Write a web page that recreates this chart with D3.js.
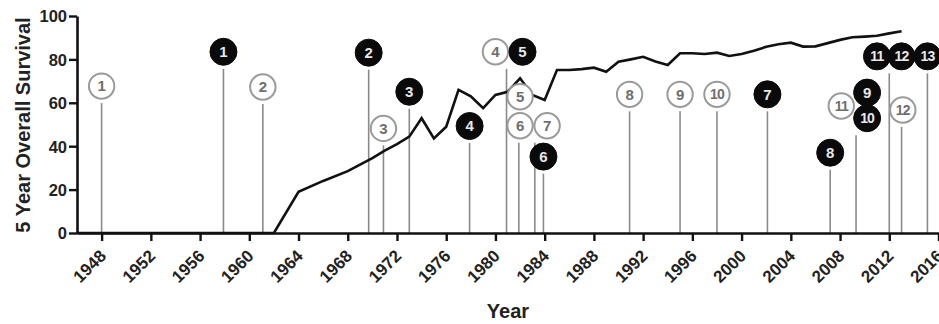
<!DOCTYPE html>
<html>
<head>
<meta charset="utf-8">
<script src="https://cdn.jsdelivr.net/npm/d3@7"></script>
<style>
  html, body { margin: 0; padding: 0; background: #fff; }
  svg { display: block; font-family: "Liberation Sans", Arial, sans-serif; }
</style>
</head>
<body>
<svg id="chart" width="939" height="324"></svg>
<script>
// ---- data ----
const survivalYears = [1946, 1962, 1964, 1966, 1968, 1970, 1971, 1972, 1973, 1974, 1975, 1976, 1977, 1978, 1979, 1980, 1981, 1982, 1983, 1984, 1985, 1986, 1987, 1988, 1989, 1990, 1991, 1992, 1993, 1994, 1995, 1996, 1997, 1998, 1999, 2000, 2001, 2002, 2003, 2004, 2005, 2006, 2007, 2008, 2009, 2010, 2011, 2012, 2013];
const survivalValues = [0, 0, 19, 24, 28.5, 34.5, 38, 41, 44.4, 52.9, 43.6, 49, 66, 63, 57.5, 63.6, 65.1, 71.3, 63.6, 61.3, 75.1, 75.1, 75.5, 76.2, 74.3, 78.9, 80, 81.2, 79, 77.4, 82.8, 82.8, 82.5, 83.1, 81.6, 82.5, 84, 85.8, 87, 87.7, 85.9, 86, 87.5, 89, 90.2, 90.5, 90.9, 92, 93];

const eventNumbers = ["1", "1", "2", "2", "3", "3", "4", "4", "5", "5", "6", "7", "6", "8", "9", "10", "7", "8", "11", "9", "10", "11", "12", "12", "13"];
const eventFilled  = [false, true, false, true, false, true, true, false, true, false, false, false, true, false, false, false, true, true, false, true, true, true, true, false, true];
const eventStemYears   = [1948, 1957.9, 1961.1, 1969.7, 1970.9, 1973.0, 1977.9, 1980.9, 1980.9, 1981.9, 1981.9, 1983.2, 1983.9, 1990.9, 1995.0, 1998.0, 2002.1, 2007.2, 2009.3, 2009.3, 2009.3, 2012.0, 2012.0, 2013.0, 2015.1];
const eventBadgeYears  = [1948, 1957.9, 1961.1, 1969.7, 1970.9, 1973.0, 1977.9, 1980.0, 1982.2, 1982.0, 1982.0, 1984.2, 1983.9, 1990.9, 1995.0, 1998.0, 2002.1, 2007.2, 2008.1, 2010.2, 2010.2, 2011.0, 2013.0, 2013.1, 2015.1];
const eventBadgeLevels = [67.7, 83.5, 67.3, 83.1, 48.2, 65.1, 49.3, 83.5, 83.5, 62.8, 49.4, 49.4, 35.2, 63.9, 63.9, 63.9, 63.9, 37.0, 58.5, 64.7, 52.9, 81.4, 81.4, 56.7, 81.4];

const xTickValues = [1948, 1952, 1956, 1960, 1964, 1968, 1972, 1976, 1980, 1984, 1988, 1992, 1996, 2000, 2004, 2008, 2012, 2016];
const yTickValues = [0, 20, 40, 60, 80, 100];
const xTitle = "Year";
const yTitle = "5 Year Overall Survival";

// ---- layout ----
const svg = d3.select("#chart");
const x = d3.scaleLinear().domain([1946, 2016]).range([77, 938.5]);
const y = d3.scaleLinear().domain([0, 100]).range([233, 16]);
const R = 13.5;

const events = eventNumbers.map((n, i) => ({
  num: n, filled: eventFilled[i], stem: eventStemYears[i],
  bx: eventBadgeYears[i], level: eventBadgeLevels[i]
}));

// stems
const stemGroups = d3.groups(events, d => d.stem);
svg.append("g").selectAll("line").data(stemGroups).join("line")
  .attr("x1", d => x(d[0])).attr("x2", d => x(d[0]))
  .attr("y1", y(0))
  .attr("y2", d => d3.max(d[1], e => y(e.level)) + 17)
  .attr("stroke", "#8a8a8a").attr("stroke-width", 1.6);

// axes
const xAxis = d3.axisBottom(x).tickValues(xTickValues).tickFormat(d3.format("d")).tickSize(8).tickSizeOuter(0);
const gx = svg.append("g").attr("transform", `translate(0,${y(0)})`).call(xAxis);
gx.select(".domain").attr("stroke", "#111").attr("stroke-width", 2.6);
gx.selectAll(".tick line").attr("stroke", "#111").attr("stroke-width", 2.4);
gx.selectAll(".tick text")
  .attr("font-family", "Liberation Sans, Arial, sans-serif")
  .attr("font-size", 17).attr("font-weight", "bold").attr("fill", "#222")
  .attr("text-anchor", "end")
  .attr("dy", null).attr("y", null)
  .attr("transform", "translate(5,24) rotate(-45)");

const yAxis = d3.axisLeft(y).tickValues(yTickValues).tickSize(8).tickSizeOuter(0);
const gy = svg.append("g").attr("transform", `translate(${x(1946)},0)`).call(yAxis);
gy.select(".domain").attr("stroke", "#111").attr("stroke-width", 2.6);
gy.selectAll(".tick line").attr("stroke", "#111").attr("stroke-width", 2.4);
gy.selectAll(".tick text")
  .attr("font-family", "Liberation Sans, Arial, sans-serif")
  .attr("font-size", 16.5).attr("font-weight", "bold").attr("fill", "#222")
  .attr("x", -10).attr("dy", "0.36em");

// survival line
const line = d3.line().x((d, i) => x(survivalYears[i])).y(d => y(d));
svg.append("path").datum(survivalValues)
  .attr("d", line).attr("fill", "none")
  .attr("stroke", "#111").attr("stroke-width", 2.6).attr("stroke-linejoin", "miter");

// badges: open first, filled on top
const ordered = events.filter(e => !e.filled).concat(events.filter(e => e.filled));
const badge = svg.append("g").selectAll("g").data(ordered).join("g")
  .attr("transform", d => `translate(${x(d.bx)},${y(d.level)})`);
badge.append("circle").attr("r", d => d.filled ? R : R - 0.8)
  .attr("fill", d => d.filled ? "#0a0a0a" : "#fff")
  .attr("stroke", d => d.filled ? "#0a0a0a" : "#9a9a9a")
  .attr("stroke-width", d => d.filled ? 1 : 2);
badge.append("text")
  .attr("text-anchor", "middle").attr("dy", "0.36em")
  .attr("font-size", d => d.num.length > 1 ? 14 : 15)
  .attr("font-weight", "bold")
  .attr("letter-spacing", d => d.num.length > 1 ? "-0.8" : "0")
  .attr("fill", d => d.filled ? "#e8e8e8" : "#6e6e6e")
  .text(d => d.num);

// titles
svg.append("text").attr("x", 508).attr("y", 318)
  .attr("text-anchor", "middle").attr("font-size", 20).attr("font-weight", "bold").attr("fill", "#222")
  .text(xTitle);
svg.append("text").attr("transform", "translate(30,125) rotate(-90)")
  .attr("text-anchor", "middle").attr("font-size", 20).attr("font-weight", "bold").attr("fill", "#222")
  .text(yTitle);
</script>
</body>
</html>
